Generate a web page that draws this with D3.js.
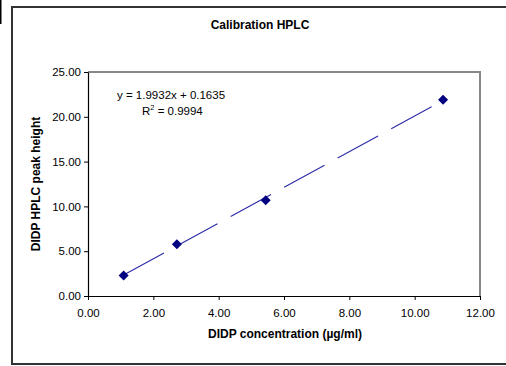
<!DOCTYPE html>
<html><head><meta charset="utf-8">
<script src="https://cdn.jsdelivr.net/npm/d3@7"></script>
<style>
html,body{margin:0;padding:0;background:#fff;overflow:hidden;}
svg{display:block;}
text{font-family:"Liberation Sans",Arial,sans-serif;}
</style></head>
<body>
<svg id="c" width="506" height="366"></svg>
<script>
const concentration = [1.09, 2.72, 5.44, 10.87];
const peakHeight = [2.28, 5.78, 10.69, 21.90];
const slope = 1.9932, intercept = 0.1635;
const xTicks = [0, 2, 4, 6, 8, 10, 12];
const yTicks = [0, 5, 10, 15, 20, 25];
const titleText = "Calibration HPLC";
const xLabel = "DIDP concentration (µg/ml)";
const yLabel = "DIDP HPLC peak height";

const svg = d3.select("#c");
// outer frame (top, left, bottom; right edge lies outside the picture)
svg.append("path").attr("d","M506,7H12V364H506")
  .attr("fill","none").attr("stroke","#333").attr("stroke-width",2);
svg.append("line").attr("x1",0.5).attr("x2",0.5).attr("y1",0).attr("y2",24).attr("stroke","#000").attr("stroke-width",2);

const L=88,R=480,T=72,B=296;
const x = d3.scaleLinear().domain([0,12]).range([L,R]);
const y = d3.scaleLinear().domain([0,25]).range([B,T]);

// plot area border (gray top/right)
svg.append("path").attr("d",`M${L},${T}H${R}V${B}`).attr("fill","none").attr("stroke","#888").attr("stroke-width",2);

const fmt = d3.format(".2f");
const xa = svg.append("g").attr("transform",`translate(0,${B})`)
  .call(d3.axisBottom(x).tickValues(xTicks).tickFormat(fmt).tickSize(4).tickSizeOuter(0));
const ya = svg.append("g").attr("transform",`translate(${L},0)`)
  .call(d3.axisLeft(y).tickValues(yTicks).tickFormat(fmt).tickSize(4).tickSizeOuter(0));
[xa,ya].forEach(g=>{
  g.select(".domain").attr("stroke","#000").attr("stroke-width",1.2);
  g.selectAll(".tick line").attr("stroke","#000");
  g.selectAll(".tick text").attr("font-size",11.5).attr("fill","#000").attr("font-family","Liberation Sans, Arial, sans-serif");
});
xa.selectAll(".tick text").attr("dy","1.2em");
ya.selectAll(".tick text").attr("x",-7);

// trendline
const x0 = d3.min(concentration), x1 = d3.max(concentration);
svg.append("line")
  .attr("x1",x(x0)).attr("y1",y(slope*x0+intercept))
  .attr("x2",x(x1)).attr("y2",y(slope*x1+intercept))
  .attr("stroke","#2a2aa8").attr("stroke-width",1.1)
  .attr("stroke-dasharray","46 15");

// markers
svg.selectAll("path.pt").data(concentration).join("path").attr("class","pt")
  .attr("d",d3.symbol(d3.symbolSquare, 50)())
  .attr("transform",(d,i)=>`translate(${x(d)},${y(peakHeight[i])}) rotate(45)`)
  .attr("fill","#000080");

// equation
svg.append("text").attr("x",117).attr("y",99).attr("font-size",11.5).text(`y = ${slope}x + ${intercept}`);
const r2 = svg.append("text").attr("x",142).attr("y",115).attr("font-size",11.5);
r2.append("tspan").text("R");
r2.append("tspan").attr("font-size",7.5).attr("dy",-5).text("2");
r2.append("tspan").attr("dy",5).text(" = 0.9994");

// titles
svg.append("text").attr("x",260).attr("y",29).attr("text-anchor","middle").attr("font-weight","bold").attr("font-size",12).text(titleText);
svg.append("text").attr("x",285).attr("y",338).attr("text-anchor","middle").attr("font-weight","bold").attr("font-size",12).text(xLabel);
svg.append("text").attr("transform","translate(40,184) rotate(-90)").attr("text-anchor","middle").attr("font-weight","bold").attr("font-size",12).text(yLabel);
</script>
</body></html>
